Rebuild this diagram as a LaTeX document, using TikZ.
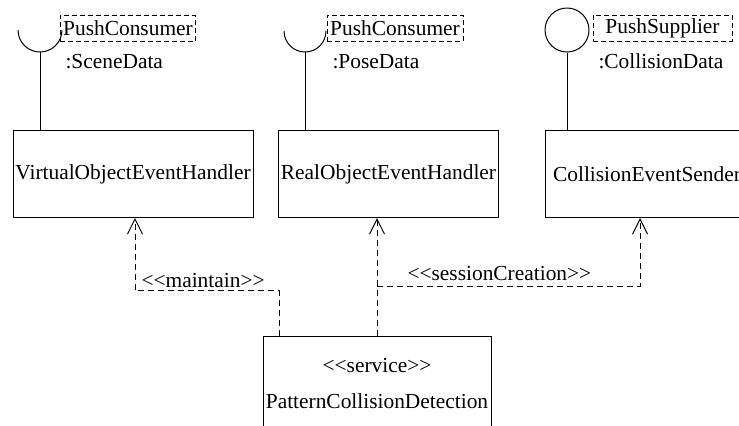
\documentclass[tikz,border=0pt]{standalone}
\usepackage{fontspec}
\setmainfont{Liberation Serif}
\usetikzlibrary{arrows.meta}
\newcommand{\stereo}[1]{<\kern0pt<#1>\kern0pt>}

\begin{document}
\begin{tikzpicture}[x=0.5pt,y=-0.5pt,line width=0.5pt,
  every node/.style={font=\fontsize{10.7}{12.8}\selectfont},
  classbox/.style={draw,minimum height=43.5pt,inner sep=1pt},
  ifacebox/.style={draw,dash pattern=on 2.5pt off 1.5pt,minimum height=13pt,inner sep=1.5pt},
  dep/.style={dash pattern=on 3pt off 2pt,-{Straight Barb[length=7.5pt,width=7.5pt]}},
  lbl/.style={inner sep=0pt,anchor=base west}]
  \useasboundingbox (0,0) rectangle (739,425);
  \clip (0,0) rectangle (739,425);

  % classes
  \node[classbox,minimum width=120pt] (voeh) at (133,174) {VirtualObjectEventHandler};
  \node[classbox,minimum width=109.5pt] (roeh) at (388.5,174) {RealObjectEventHandler};
  \node[classbox,minimum width=102pt] (ces) at (647,174) {CollisionEventSender};
  \node[classbox,minimum width=114pt,minimum height=47.5pt,align=center] (pcd) at (377,383.5)
    {\stereo{service}\\[5.2pt]PatternCollisionDetection};

  % required interfaces
  \coordinate (sock1) at (40,52);
  \draw (18,30) arc[start angle=180,end angle=0,radius=22];
  \draw (sock1) -- (sock1 |- voeh.north);
  \node[ifacebox,minimum width=67pt] (pc1) at (128,28) {PushConsumer};
  \node[lbl] (scene) at (65,68) {:SceneData};

  \coordinate (sock2) at (305,52);
  \draw (284,31) arc[start angle=180,end angle=0,radius=21];
  \draw (sock2) -- (sock2 |- roeh.north);
  \node[ifacebox,minimum width=68pt] (pc2) at (395,28) {PushConsumer};
  \node[lbl] (pose) at (332,68) {:PoseData};

  % provided interface
  \node[draw,circle,minimum size=22pt,inner sep=0pt] (ball) at (567,30) {};
  \draw (ball.south) -- (ball.south |- ces.north);
  \node[ifacebox,minimum width=69.5pt] (ps) at (662.5,28) {PushSupplier};
  \node[lbl] (coll) at (598,68) {:CollisionData};

  % dependencies
  \draw[dep] ([xshift=-49pt]pcd.north) -- ++(0,-45) -| ([xshift=1pt]voeh.south);
  \node[lbl] (maintain) at (141,287) {\stereo{maintain}};
  \draw[dep] (pcd.north) -- (pcd.north |- roeh.south);
  \coordinate (split) at (377,286);
  \draw[dep] (split) -| ([xshift=-3.5pt]ces.south);
  \node[lbl] (session) at (407,280) {\stereo{sessionCreation}};
\end{tikzpicture}
\end{document}
